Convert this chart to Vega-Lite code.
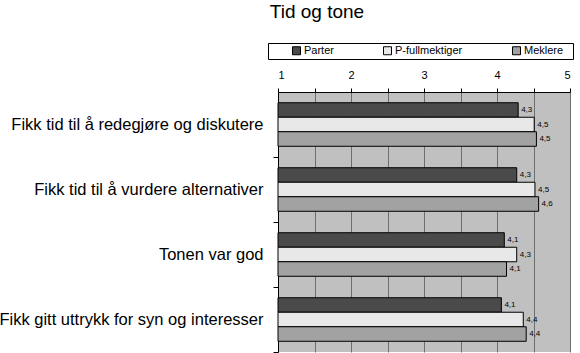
{
  "$schema": "https://vega.github.io/schema/vega-lite/v6.json",
  "autosize": "none",
  "width": 292,
  "height": 260,
  "padding": {"left": 278, "top": 92, "right": 10, "bottom": 1},
  "background": "white",
  "title": {"text": "Tid og tone", "fontSize": 19, "font": "Liberation Sans", "fontWeight": "normal", "color": "black", "anchor": "middle", "dx": -107, "offset": 21},
  "config": {
    "font": "Liberation Sans",
    "locale": {"number": {"decimal": ",", "thousands": ".", "grouping": [3], "currency": ["", " kr"]}},
    "view": {"fill": "#c0c0c0", "stroke": null}
  },
  "data": {
    "values": [
      {"q": "Fikk tid til å redegjøre og diskutere", "s": "Parter", "v": 4.29},
      {"q": "Fikk tid til å redegjøre og diskutere", "s": "P-fullmektiger", "v": 4.51},
      {"q": "Fikk tid til å redegjøre og diskutere", "s": "Meklere", "v": 4.54},
      {"q": "Fikk tid til å vurdere alternativer", "s": "Parter", "v": 4.27},
      {"q": "Fikk tid til å vurdere alternativer", "s": "P-fullmektiger", "v": 4.52},
      {"q": "Fikk tid til å vurdere alternativer", "s": "Meklere", "v": 4.57},
      {"q": "Tonen var god", "s": "Parter", "v": 4.1},
      {"q": "Tonen var god", "s": "P-fullmektiger", "v": 4.27},
      {"q": "Tonen var god", "s": "Meklere", "v": 4.13},
      {"q": "Fikk gitt uttrykk for syn og interesser", "s": "Parter", "v": 4.06},
      {"q": "Fikk gitt uttrykk for syn og interesser", "s": "P-fullmektiger", "v": 4.36},
      {"q": "Fikk gitt uttrykk for syn og interesser", "s": "Meklere", "v": 4.4}
    ]
  },
  "encoding": {
    "y": {
      "field": "q", "type": "nominal", "sort": null,
      "scale": {"paddingInner": 0.33, "paddingOuter": 0.165},
      "axis": {"title": null, "labelFontSize": 16.5, "labelColor": "black", "labelPadding": 10, "tickSize": 5, "tickColor": "black", "domainColor": "black", "tickOffset": 32.5, "labelOffset": -32.5, "labelLimit": 300}
    },
    "yOffset": {"field": "s", "type": "nominal", "sort": ["Parter", "P-fullmektiger", "Meklere"], "scale": {"paddingInner": 0, "paddingOuter": 0}},
    "x": {
      "field": "v", "type": "quantitative",
      "scale": {"domain": [1, 5], "zero": false, "nice": false},
      "axis": {"orient": "top", "title": null, "values": [1, 1.5, 2, 2.5, 3, 3.5, 4, 4.5, 5], "labelExpr": "datum.value % 1 === 0 ? format(datum.value, 'd') : ''", "labelFontSize": 11, "labelColor": "black", "labelPadding": 8, "tickSize": 4, "tickColor": "black", "domainColor": "black", "grid": true, "gridColor": "#6e6e6e", "gridOpacity": 1}
    }
  },
  "layer": [
    {
      "mark": {"type": "bar", "stroke": "black", "strokeWidth": 1},
      "encoding": {
        "x2": {"datum": 1},
        "fill": {
          "field": "s", "type": "nominal", "sort": ["Parter", "P-fullmektiger", "Meklere"],
          "scale": {"domain": ["Parter", "P-fullmektiger", "Meklere"], "range": ["#4a4a4a", "#e8e8e8", "#a2a2a2"]},
          "legend": {"title": " ", "titleOrient": "right", "titlePadding": 8, "titleFontSize": 11, "orient": "none", "legendX": -10, "legendY": -49, "direction": "horizontal", "strokeColor": "black", "fillColor": "white", "padding": 2, "symbolOffset": 21, "symbolType": "square", "symbolSize": 64, "symbolStrokeColor": "black", "symbolStrokeWidth": 1, "labelFontSize": 11, "labelColor": "black", "columnPadding": 27, "labelOffset": 2}
        }
      }
    },
    {
      "mark": {"type": "text", "align": "left", "dx": 3, "fontSize": 8, "color": "black"},
      "encoding": {"text": {"field": "v", "type": "quantitative", "format": ".1f"}}
    }
  ]
}
